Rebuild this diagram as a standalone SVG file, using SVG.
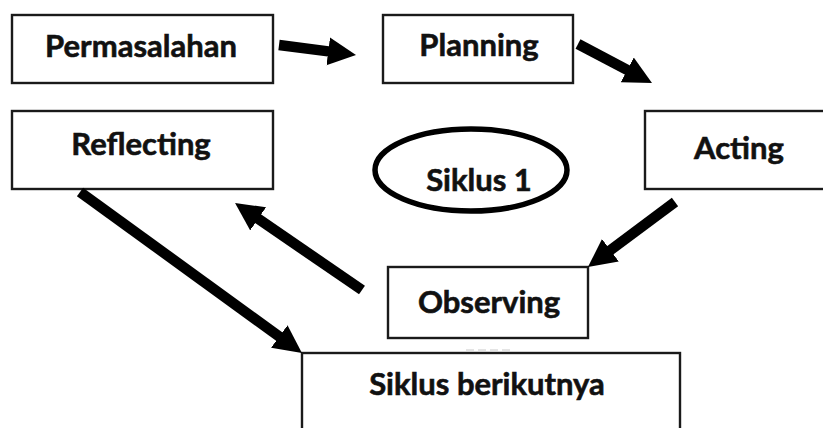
<svg xmlns="http://www.w3.org/2000/svg" width="823" height="428" viewBox="0 0 823 428">
<style>
.box{fill:#fff;stroke:#1a1a1a;stroke-width:2.4}
.lbl{font-family:Lato,"Open Sans","Liberation Sans",sans-serif;font-weight:bold;font-size:31px;fill:#111;stroke:#111;stroke-width:0.6;text-anchor:middle}
.arr{stroke:#000;stroke-width:10.5;fill:none;marker-end:url(#ah)}
</style>
<defs>
<marker id="ah" markerUnits="userSpaceOnUse" markerWidth="30" markerHeight="30" viewBox="0 0 30 30" refX="2" refY="15" orient="auto">
<path d="M0,1 L28,15 L0,29 z" fill="#000"/>
</marker>
</defs>
<rect width="823" height="428" fill="#fff"/>
<g id="permasalahan"><rect class="box" x="12" y="15" width="261" height="68"/><text class="lbl" x="141" y="57">Permasalahan</text></g>
<g id="planning"><rect class="box" x="383" y="15" width="190" height="68"/><text class="lbl" x="479" y="56">Planning</text></g>
<g id="acting"><rect class="box" x="645" y="111" width="200" height="78"/><text class="lbl" x="739" y="159">Acting</text></g>
<g id="reflecting"><rect class="box" x="12" y="111" width="261" height="78"/><text class="lbl" x="141" y="155">Reflecting</text></g>
<g id="siklus1"><ellipse cx="471" cy="170" rx="96" ry="41" fill="#fff" stroke="#000" stroke-width="5.5"/><text class="lbl" x="479" y="191">Siklus 1</text></g>
<g id="observing"><rect class="box" x="388" y="267" width="200" height="71"/><text class="lbl" x="489" y="313">Observing</text></g>
<g id="siklus-berikutnya"><rect class="box" x="302" y="353" width="378" height="100"/><text class="lbl" x="487" y="395">Siklus berikutnya</text></g>
<g id="stub"><line x1="466" y1="350" x2="512" y2="350" stroke="#c8c8c8" stroke-width="1" stroke-dasharray="8,4"/></g>
<g id="connectors">
<line class="arr" x1="279" y1="45" x2="330.2" y2="51.6"/>
<line class="arr" x1="578" y1="44" x2="629" y2="70.9"/>
<line class="arr" x1="675" y1="202" x2="608.8" y2="251.4"/>
<line class="arr" x1="362" y1="290" x2="256.5" y2="217.7"/>
<line class="arr" x1="80" y1="192" x2="280.9" y2="337.7"/>
</g>
</svg>
